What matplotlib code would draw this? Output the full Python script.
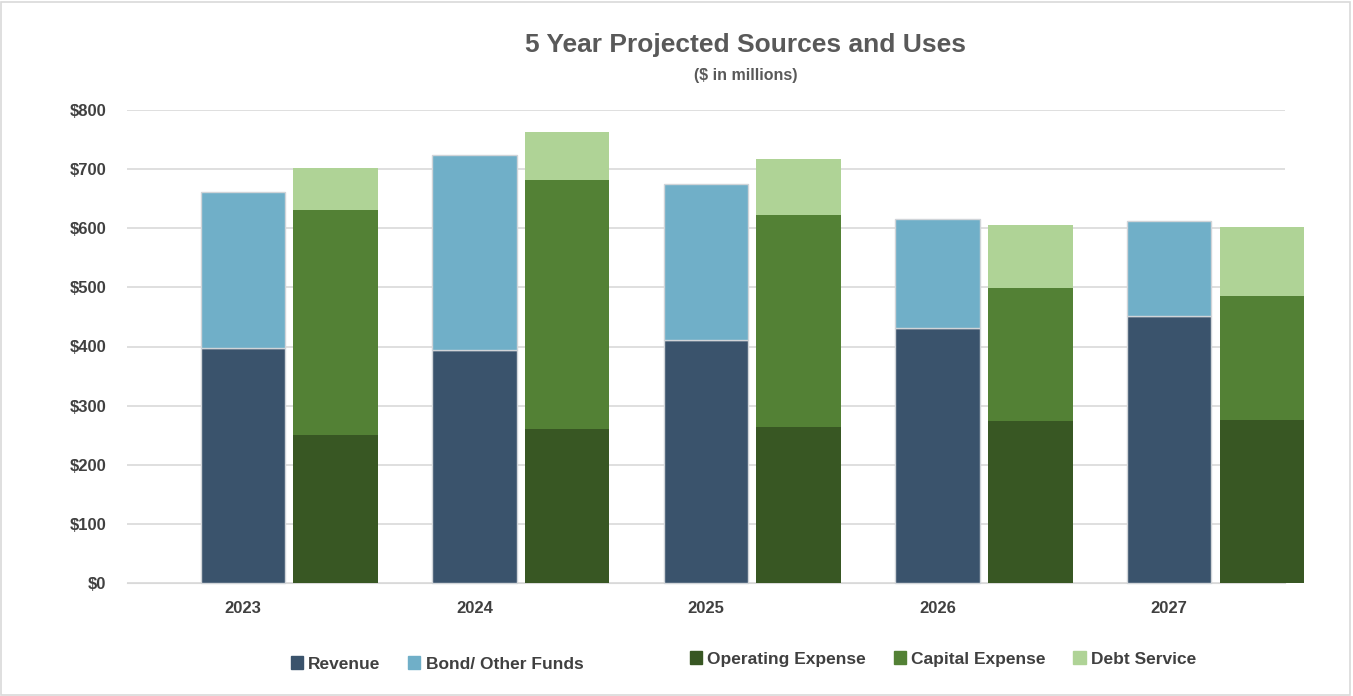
import matplotlib.pyplot as plt
import numpy as np
from matplotlib.patches import Patch, Rectangle

plt.rcParams['font.family'] = ['Liberation Sans', 'DejaVu Sans']

years = ['2023', '2024', '2025', '2026', '2027']
# sources
revenue = [397, 394, 411, 431, 452]
bond_other = [264, 330, 264, 185, 160]
# uses
operating = [250, 260, 264, 274, 276]
capital = [381, 422, 358, 225, 209]
debt_service = [71, 81, 95, 106, 117]

c_rev = '#3a536c'
c_bond = '#70afc8'
c_op = '#385723'
c_cap = '#538135'
c_debt = '#afd396'

fig = plt.figure(figsize=(13.53, 6.96), dpi=100)
ax = fig.add_axes([127 / 1353, 1 - 583 / 696, (1285 - 127) / 1353, (583 - 110) / 696])

x = np.arange(len(years))
w = 0.365
off = 0.40
rev = np.array(revenue)
op = np.array(operating)
cap = np.array(capital)

# sources stack on the category, uses stack just right of it
ax.bar(x, revenue, w, color=c_rev, edgecolor='#d0d4d8', linewidth=1, zorder=3, clip_on=False)
ax.bar(x, bond_other, w, bottom=rev, color=c_bond, edgecolor='#d0d4d8', linewidth=1, zorder=3,
       clip_on=False)
ax.bar(x + off, operating, w, color=c_op, zorder=3, clip_on=False)
ax.bar(x + off, capital, w, bottom=op, color=c_cap, zorder=3, clip_on=False)
ax.bar(x + off, debt_service, w, bottom=op + cap, color=c_debt, zorder=3, clip_on=False)

ax.set_xlim(-0.5, 4.5)
ax.set_ylim(0, 800)
ax.set_yticks(np.arange(0, 801, 100))
ax.set_yticklabels(['$' + str(v) for v in range(0, 801, 100)])
ax.set_xticks(x)
ax.set_xticklabels(years)
ax.grid(axis='y', color='#d9d9d9', linewidth=1.2, zorder=0)
ax.tick_params(length=0, labelsize=12, labelcolor='#404040')
ax.tick_params(axis='y', pad=15)
ax.tick_params(axis='x', pad=13)
for lab in ax.get_xticklabels() + ax.get_yticklabels():
    lab.set_fontweight('bold')
for side in ['top', 'right', 'left']:
    ax.spines[side].set_visible(False)
ax.spines['bottom'].set_color('#d9d9d9')

fig.text(0.551, 0.935, '5 Year Projected Sources and Uses', ha='center', va='center',
         fontsize=19, fontweight='bold', color='#595959')
fig.text(0.551, 0.891, '($ in millions)', ha='center', va='center',
         fontsize=11.5, fontweight='bold', color='#595959')

# two legends: sources and uses
src = [Patch(color=c_rev, label='Revenue'), Patch(color=c_bond, label='Bond/ Other Funds')]
uses = [Patch(color=c_op, label='Operating Expense'), Patch(color=c_cap, label='Capital Expense'),
        Patch(color=c_debt, label='Debt Service')]
kw = dict(frameon=False, ncol=3, handlelength=0.7, handleheight=0.7, handletextpad=0.3,
          columnspacing=1.6, prop={'size': 12.5, 'weight': 'bold'}, labelcolor='#404040')
fig.legend(handles=src, loc='center', bbox_to_anchor=(437 / 1353, 1 - 664 / 696), **kw)
fig.legend(handles=uses, loc='center', bbox_to_anchor=(943 / 1353, 1 - 659 / 696), **kw)

fig.patches.append(Rectangle((0.001, 0.002), 0.997, 0.995, transform=fig.transFigure,
                             fill=False, edgecolor='#d9d9d9', linewidth=1.2))

fig.savefig('out.png', dpi=100)
